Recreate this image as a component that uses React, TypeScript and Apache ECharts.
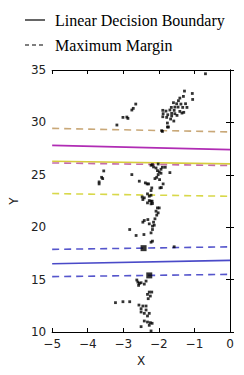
import React, { useEffect, useRef } from "react";
import * as echarts from "echarts";

const xTicks = [-5, -4, -3, -2, -1, 0];
const yTicks = [10, 15, 20, 25, 30, 35];

// boundary lines: [y at x=-5, y at x=0]
const boundaryNames = ["magenta", "yellow", "blue"];
const boundaryLeft = [27.81, 26.29, 16.51];
const boundaryRight = [27.4, 26.04, 16.83];
const boundaryColors = ["#b02cb4", "#d6cc3c", "#4a4ac8"];

const marginNames = ["tanUpper", "pinkLower", "yellowLower", "blueUpper", "blueLower"];
const marginLeft = [29.43, 26.13, 23.21, 17.88, 15.28];
const marginRight = [29.09, 25.88, 22.95, 18.13, 15.5];
const marginColors = ["#c9a878", "#c46ca8", "#d8d84a", "#5656cc", "#5656cc"];

const pointsX = [
  -0.69, -3.18, -3.01, -2.9, -2.87, -2.76, -2.72, -2.65,
  -1.28, -1.06, -1.05, -1.45, -1.41, -1.31, -1.59, -1.5, -1.38, -1.25,
  -1.65, -1.55, -1.46, -1.33, -1.21, -1.69, -1.57, -1.41, -1.3, -1.8,
  -1.89, -1.88, -1.75, -1.64, -1.55, -1.35, -1.89, -1.78, -1.64, -1.49,
  -1.58, -1.67, -1.76, -1.73, -1.92, -1.9, -1.76,
  -3.55, -3.61, -3.58, -3.68, -3.68, -2.76, -2.55, -2.38, -2.33, -2.29,
  -2.2, -2.22, -1.97, -1.93, -1.88,
  -2.15, -2.08, -2.04, -1.99, -1.94, -1.9, -2.02, -1.94, -2.06, -2.11,
  -1.98, -1.69, -1.82, -2.22, -2.02, -2.18,
  -2.47, -2.41, -2.32, -2.27, -2.22, -2.27, -2.19, -2.32, -2.22,
  -2.45, -2.22, -2.18, -2.04, -1.99, -2.08, -2.02, -2.06,
  -2.11, -2.15, -2.13, -2.31, -2.41, -2.45, -2.27, -2.18, -2.18, -2.22,
  -2.82, -2.64, -2.42, -2.18, -2.22, -1.57,
  -2.62, -2.59, -2.55, -2.57, -2.5, -2.41, -2.36,
  -2.27, -2.2, -2.32, -2.24, -2.3,
  -3.22, -3.01, -2.82,
  -2.56, -2.45, -2.36, -2.5, -2.36, -2.41, -2.5, -2.32, -2.27,
  -2.41, -2.32, -2.24, -2.19, -2.27, -2.22, -2.5,
];
const pointsY = [
  34.64, 29.75, 30.48, 30.51, 30.38, 31.18, 31.34, 31.75,
  32.99, 32.76, 32.19, 32.07, 32.32, 32.48, 31.88, 31.78, 31.75, 31.78,
  31.43, 31.46, 31.46, 31.43, 31.43, 31.18, 31.15, 31.05, 30.96, 31.08,
  31.15, 30.83, 30.73, 30.86, 30.83, 30.89, 30.54, 30.48, 30.61, 30.67,
  30.13, 30.32, 29.94, 29.56, 29.21, 29.14, 29.56,
  25.37, 24.76, 24.64, 24.32, 24.13, 25.02, 24.39, 24.23, 24.13, 24.13,
  23.75, 23.5, 23.75, 23.78, 24.13,
  25.75, 25.65, 25.4, 25.27, 25.53, 25.72, 25.02, 25.15, 24.76, 24.64,
  24.54, 25.21, 25.72, 25.91, 26.03, 25.97,
  22.89, 22.8, 23.18, 22.96, 23.05, 22.54, 22.48, 22.32, 22.23,
  22.64, 22.48, 22.26, 21.84, 21.84, 21.53, 21.37, 21.15,
  20.8, 20.48, 20.19, 20.73, 20.64, 20.48, 20.32, 20.1, 19.78, 19.46,
  19.78, 19.21, 19.3, 18.67, 18.57, 18.13,
  14.96, 14.76, 14.64, 14.45, 14.7, 14.57, 14.86,
  13.81, 13.81, 13.59, 13.43, 13.18,
  12.8, 12.89, 12.89,
  12.57, 12.48, 12.48, 12.22, 12.1, 11.78, 11.91, 11.53, 11.78,
  11.05, 10.95, 10.89, 10.83, 10.64, 10.1, 10.51,
];

const bigX = [-2.43, -2.27];
const bigY = [18.0, 15.4];

const fmt = (v: number) => String(v).replace("-", "\u2212");

export default function App() {
  const ref = useRef<HTMLDivElement>(null);
  useEffect(() => {
    if (!ref.current) return;
    const chart = echarts.init(ref.current, undefined, { renderer: "svg" });
    const series: any[] = [];
    boundaryNames.forEach((n, i) => {
      series.push({
        name: n,
        type: "line",
        data: [[-5, boundaryLeft[i]], [0, boundaryRight[i]]],
        symbol: "none",
        lineStyle: { color: boundaryColors[i], width: 1.6 },
        z: 2,
      });
    });
    marginNames.forEach((n, i) => {
      series.push({
        name: n,
        type: "line",
        data: [[-5, marginLeft[i]], [0, marginRight[i]]],
        symbol: "none",
        lineStyle: { color: marginColors[i], width: 1.6, type: [7, 5] },
        z: 2,
      });
    });
    series.push({
      type: "scatter",
      data: pointsX.map((x, i) => [x, pointsY[i]]),
      symbol: "rect",
      symbolSize: 2.8,
      itemStyle: { color: "#000" },
      z: 3,
    });
    series.push({
      type: "scatter",
      data: bigX.map((x, i) => [x, bigY[i]]),
      symbol: "rect",
      symbolSize: 6,
      itemStyle: { color: "#000" },
      z: 3,
    });
    const axisCommon = {
      axisLine: { show: true, lineStyle: { color: "#000", width: 1 } },
      axisTick: { show: true, inside: true, length: 4, lineStyle: { color: "#000" } },
      splitLine: { show: false },
    };
    chart.setOption({
      animation: false,
      grid: { left: 50, right: 14, top: 70, bottom: 43, containLabel: false },
      xAxis: [
        {
          type: "value",
          min: -5,
          max: 0,
          interval: 1,
          ...axisCommon,
          axisLabel: {
            formatter: (v: number) => fmt(v),
            color: "#222",
            fontFamily: "DejaVu Sans",
            fontSize: 12,
            margin: 6,
          },
          name: "X",
          nameLocation: "middle",
          nameGap: 22,
          nameTextStyle: { fontFamily: "DejaVu Sans", fontSize: 12, color: "#222" },
        },
        {
          type: "value",
          position: "top",
          min: -5,
          max: 0,
          interval: 1,
          ...axisCommon,
          axisLabel: { show: false },
        },
      ],
      yAxis: [
        {
          type: "value",
          min: 10,
          max: 35,
          interval: 5,
          ...axisCommon,
          axisLabel: {
            formatter: (v: number) => fmt(v),
            color: "#222",
            fontFamily: "DejaVu Sans",
            fontSize: 12,
            margin: 6,
          },
          name: "Y",
          nameLocation: "middle",
          nameGap: 30,
          nameRotate: 90,
          nameTextStyle: { fontFamily: "DejaVu Sans", fontSize: 12, color: "#222" },
        },
        {
          type: "value",
          position: "right",
          min: 10,
          max: 35,
          interval: 5,
          ...axisCommon,
          axisLabel: { show: false },
        },
      ],
      graphic: [
        { type: "line", shape: { x1: 25, y1: 20, x2: 45, y2: 20 }, style: { stroke: "#000", lineWidth: 1.2 } },
        {
          type: "text",
          x: 55,
          y: 20,
          style: { text: "Linear Decision Boundary", font: "16px 'Liberation Serif'", fill: "#000", verticalAlign: "middle" },
        },
        { type: "line", shape: { x1: 25, y1: 45, x2: 45, y2: 45 }, style: { stroke: "#000", lineWidth: 1.2, lineDash: [4, 3] } },
        {
          type: "text",
          x: 55,
          y: 45,
          style: { text: "Maximum Margin", font: "16px 'Liberation Serif'", fill: "#000", verticalAlign: "middle" },
        },
      ],
      series,
    });
    return () => chart.dispose();
  }, []);
  return <div ref={ref} style={{ width: 244, height: 375, position: "absolute", left: 0, top: 0 }} />;
}
